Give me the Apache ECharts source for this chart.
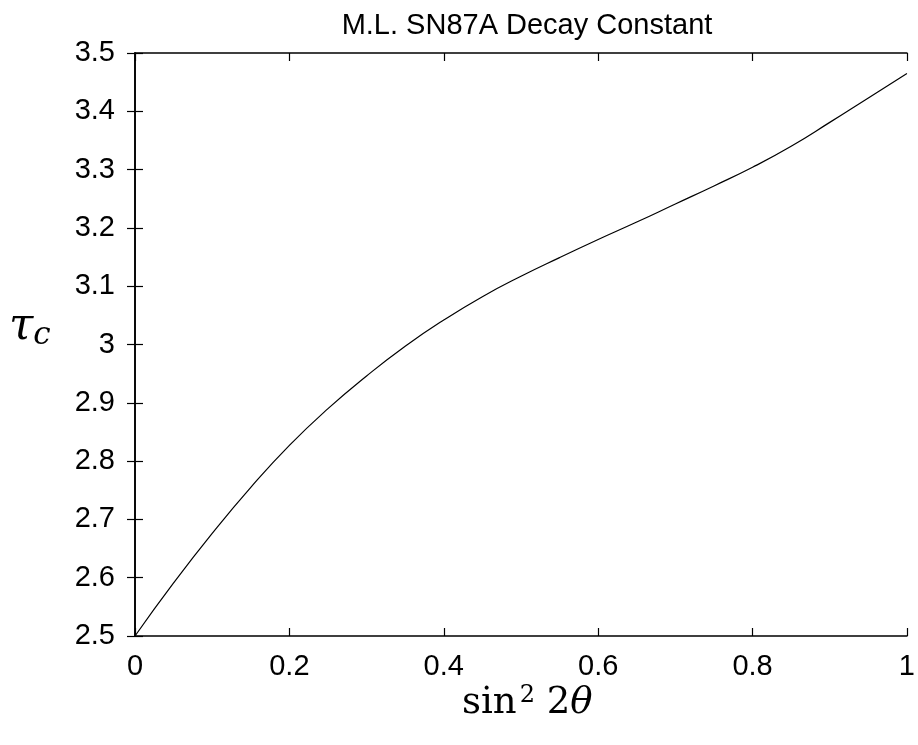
<!DOCTYPE html>
<html>
<head>
<meta charset="utf-8">
<script src="https://cdn.jsdelivr.net/npm/echarts@6/dist/echarts.min.js"></script>
<style>html,body{margin:0;padding:0;background:#fff}#c{width:918px;height:745px}</style>
</head>
<body>
<div id="c"></div>
<script>
var titleText = 'M.L. SN87A Decay Constant';
var xValues = [0, 0.05, 0.1, 0.15, 0.2, 0.25, 0.3, 0.35, 0.4, 0.45, 0.5, 0.55, 0.6, 0.65, 0.7, 0.75, 0.8, 0.85, 0.9, 0.95, 1.0];
var tauValues = [2.5, 2.591, 2.676, 2.755, 2.827, 2.890, 2.946, 2.997, 3.042, 3.082, 3.117, 3.149, 3.180, 3.210, 3.241, 3.272, 3.304, 3.340, 3.381, 3.423, 3.465];

var seriesData = xValues.map(function (x, i) { return [x, tauValues[i]]; });
var chart = echarts.init(document.getElementById('c'), null, {renderer: 'canvas'});
var font = '"Liberation Sans", Arial, Helvetica, sans-serif';
var serif = '"DejaVu Serif", "Liberation Serif", serif';
var axisCommon = {
  axisLine: {show: true, lineStyle: {color: '#000', width: 1.6}},
  axisTick: {show: true, inside: true, length: 8, lineStyle: {color: '#000', width: 1.2}},
  splitLine: {show: false}
};
chart.setOption({
  animation: false,
  backgroundColor: '#fff',
  title: {
    text: titleText, left: 522, top: 6, textAlign: 'center',
    textStyle: {fontFamily: font, fontSize: 29, fontWeight: 'normal', color: '#000'}
  },
  grid: {left: 135, right: 8, top: 53, bottom: 109},
  xAxis: [
    Object.assign({type: 'value', min: 0, max: 1, interval: 0.2, position: 'bottom',
      axisLabel: {fontFamily: font, fontSize: 29, color: '#000', margin: 16}}, axisCommon),
    Object.assign({type: 'value', min: 0, max: 1, interval: 0.2, position: 'top',
      axisLabel: {show: false}}, axisCommon)
  ],
  yAxis: [
    Object.assign({type: 'value', min: 2.5, max: 3.5, interval: 0.1, position: 'left',
      axisLabel: {fontFamily: font, fontSize: 29, color: '#000', margin: 20,
        formatter: function (v) { return (Math.round(v * 10) / 10).toString(); }}}, axisCommon),
    Object.assign({type: 'value', min: 2.5, max: 3.5, interval: 0.1, position: 'right',
      axisLabel: {show: false}}, axisCommon)
  ],
  graphic: [
    {
      type: 'text', left: 462, top: 684,
      style: {
        text: '{n|sin}{s|2}{n| 2}{t|θ}',
        rich: {
          n: {fontFamily: serif, fontSize: 37, fill: '#000', verticalAlign: 'bottom'},
          s: {fontFamily: serif, fontSize: 24, fill: '#000', verticalAlign: 'top', padding: [0, 0, 14, 3]},
          t: {fontFamily: serif, fontSize: 37, fontStyle: 'italic', fill: '#000'}
        }
      }
    },
    {
      type: 'text', left: 9, top: 306,
      style: {
        text: '{t|τ}{c|c}',
        rich: {
          t: {fontFamily: serif, fontSize: 44, fontStyle: 'italic', fill: '#000'},
          c: {fontFamily: serif, fontSize: 31, fontStyle: 'italic', fill: '#000', padding: [16, 0, 0, 0]}
        }
      }
    }
  ],
  series: [{
    type: 'line', xAxisIndex: 0, yAxisIndex: 0,
    data: seriesData, smooth: 0.5, showSymbol: false,
    lineStyle: {color: '#000', width: 1.2}
  }]
});
</script>
</body>
</html>
